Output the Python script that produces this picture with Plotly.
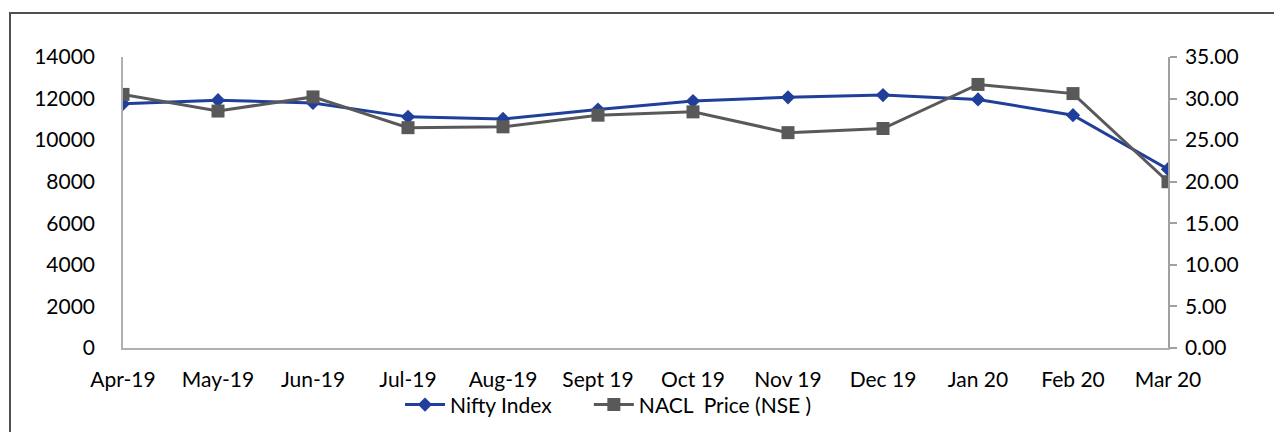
import plotly.graph_objects as go

months = ["Apr-19", "May-19", "Jun-19", "Jul-19", "Aug-19", "Sept 19", "Oct 19",
          "Nov 19", "Dec 19", "Jan 20", "Feb 20", "Mar 20"]
nifty = [11750, 11920, 11790, 11120, 11020, 11470, 11880, 12060, 12170, 11960, 11200, 8600]
nacl = [30.5, 28.5, 30.2, 26.5, 26.6, 28.0, 28.4, 25.9, 26.4, 31.7, 30.6, 20.0]
left_ticks = [0, 2000, 4000, 6000, 8000, 10000, 12000, 14000]
right_ticks = [0, 5, 10, 15, 20, 25, 30, 35]

BLUE = "#203f9a"
GRAY = "#595959"
FONT = "Lato"
NB = "\u00a0"

x = list(range(len(months)))

fig = go.Figure()
fig.add_trace(go.Scatter(x=x, y=nifty, name="Nifty Index" + NB * 6, mode="lines+markers",
                         line=dict(color=BLUE, width=3),
                         marker=dict(symbol="diamond", size=11, color=BLUE)))
fig.add_trace(go.Scatter(x=x, y=nacl, name="NACL  Price (NSE )", mode="lines+markers",
                         yaxis="y2",
                         line=dict(color=GRAY, width=3),
                         marker=dict(symbol="square", size=13, color=GRAY)))

W, H = 1274, 424
L, T = 115, 49
PW, PH = 1045, 291
R = W - L - PW
B = H - T - PH

fig.update_layout(
    width=W, height=H,
    margin=dict(l=L, r=R, t=T, b=B, autoexpand=False),
    paper_bgcolor="white", plot_bgcolor="white",
    font=dict(family=FONT, size=21, color="#000000"),
    showlegend=True,
    legend=dict(orientation="h", x=(400 - 8 - L) / PW, xanchor="left", y=-0.125,
                yanchor="top", font=dict(size=21), itemwidth=40, tracegroupgap=0,
                bgcolor="rgba(0,0,0,0)"),
    xaxis=dict(range=[0, 11], tickmode="array", tickvals=x, ticktext=months,
               showgrid=False, zeroline=False, showline=True, linecolor="#b0b0b0",
               linewidth=1.5, ticks="", ticklabelstandoff=12, fixedrange=True),
    yaxis=dict(range=[0, 14000], tickmode="array", tickvals=left_ticks,
               ticktext=[str(v) for v in left_ticks],
               showgrid=False, zeroline=False, showline=True, linecolor="#b0b0b0",
               linewidth=1.5, ticks="", ticklabelstandoff=22),
    yaxis2=dict(range=[0, 35], overlaying="y", side="right", tickmode="array",
                tickvals=right_ticks, ticktext=[f"{v:.2f}" for v in right_ticks],
                showgrid=False, zeroline=False, showline=True, linecolor="#a0a0a0",
                linewidth=1.5, ticks="outside", ticklen=7, tickcolor="#a0a0a0",
                tickwidth=1.5, ticklabelstandoff=4),
)

fig.add_shape(type="rect", xref="paper", yref="paper",
              x0=-113 / PW, x1=1.2, y0=-0.5, y1=(PH + T - 5) / PH,
              line=dict(color="#505050", width=2), fillcolor="rgba(0,0,0,0)",
              layer="below")

fig.write_html("out.html")
